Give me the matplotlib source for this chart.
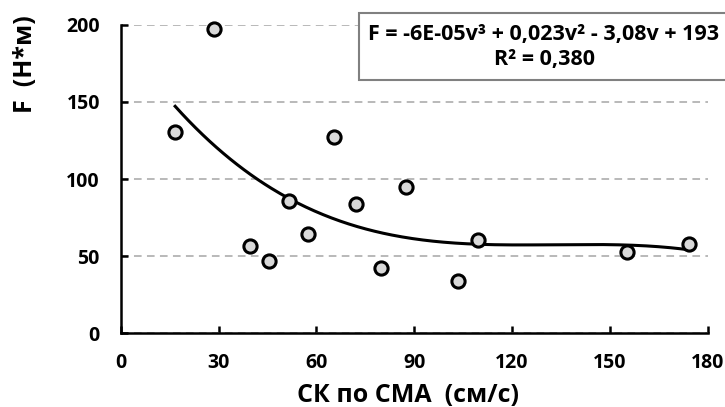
import numpy as np
import matplotlib
matplotlib.use("Agg")
import matplotlib.pyplot as plt
from matplotlib.patches import Rectangle

plt.rcParams['font.family'] = ['Open Sans', 'DejaVu Sans']
plt.rcParams['font.weight'] = 'bold'

# Measurements: blood-flow velocity (cm/s) vs force (N*m)
velocity = [16.7, 28.7, 39.7, 45.6, 51.5, 57.5, 65.4, 72.2, 79.7, 87.5, 103.6, 109.7, 155.2, 174.4]
force = [130.6, 197.3, 56.7, 46.8, 85.7, 64.5, 127.3, 83.7, 42.1, 94.6, 33.9, 60.4, 52.7, 57.8]

x_ticks = [0, 30, 60, 90, 120, 150, 180]
y_ticks = [0, 50, 100, 150, 200]

equation = "F = -6E-05v³ + 0,023v² - 3,08v + 193"
r_squared = "R² = 0,380"

W, H = 725, 407
fig = plt.figure(figsize=(W / 100, H / 100), dpi=100)
ax = fig.add_axes([0.1665, 0.181, 0.8095, 0.758])

# cubic trendline fitted to the measurements
coef = np.polyfit(velocity, force, 3)
xs = np.linspace(min(velocity), max(velocity), 300)
ax.plot(xs, np.polyval(coef, xs), color='black', lw=2.2, zorder=3)

ax.plot(velocity, force, 'o', ms=9.5, mfc='#d9d9d9', mec='black', mew=2.2,
        zorder=4, clip_on=False)

ax.set_xlim(0, 180)
ax.set_ylim(0, 200)
ax.set_xticks(x_ticks)
ax.set_yticks(y_ticks)
ax.yaxis.grid(True, color='#a6a6a6', ls=(0, (5, 3.5)), lw=1.1)
ax.set_axisbelow(True)

for s in ['top', 'right']:
    ax.spines[s].set_visible(False)
for s in ['left', 'bottom']:
    ax.spines[s].set_linewidth(1.8)
    ax.spines[s].set_color('black')

ax.tick_params(axis='both', direction='in', length=5, width=1.8, labelsize=14, colors='black')
ax.tick_params(axis='x', pad=14)
ax.tick_params(axis='y', pad=15)
for lbl in ax.get_xticklabels() + ax.get_yticklabels():
    lbl.set_fontweight('bold')

fig.text(408 / W, 1 - 402 / H, "СК по СМА  (см/с)", ha='center', va='baseline',
         fontsize=18, fontweight='bold')
fig.text(25 / W, 1 - 64 / H, "F  (H*м)", ha='center', va='center', rotation=90,
         fontsize=18, fontweight='bold')

# equation box, running off the right edge of the figure
fig.patches.append(Rectangle((359 / W, 1 - 80 / H), 0.6, 67 / H,
                             transform=fig.transFigure, fc='white', ec='#808080', lw=1.5,
                             zorder=5))
fig.text(544 / W, 1 - 40 / H, equation, ha='center', va='baseline',
         fontsize=15.5, fontweight='bold', zorder=6)
fig.text(544 / W, 1 - 65 / H, r_squared, ha='center', va='baseline',
         fontsize=15.5, fontweight='bold', zorder=6)

fig.savefig("out.png", dpi=100)
